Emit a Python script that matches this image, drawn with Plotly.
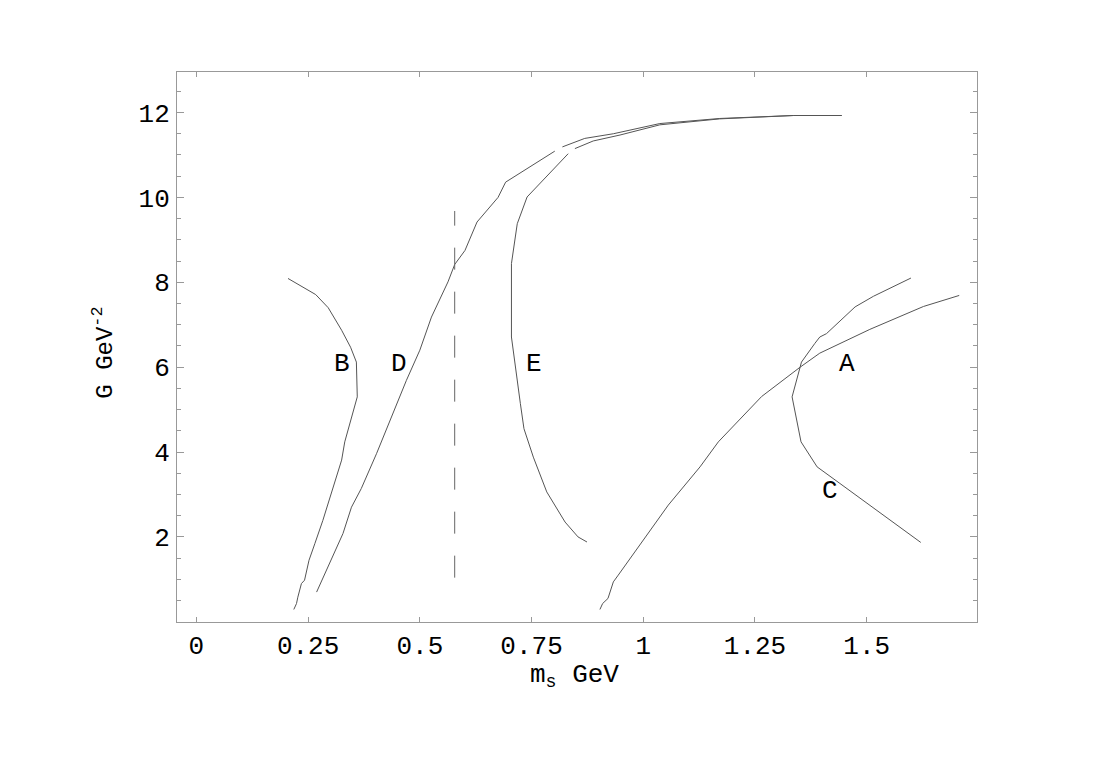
import plotly.graph_objects as go

# ---- data ----
B_x = [0.205, 0.267, 0.295, 0.325, 0.345, 0.358, 0.360, 0.343, 0.332, 0.325, 0.313, 0.298, 0.283, 0.265, 0.252, 0.242, 0.235, 0.227, 0.224, 0.218]
B_y = [8.09, 7.71, 7.40, 6.87, 6.47, 6.12, 5.30, 4.67, 4.24, 3.81, 3.41, 2.86, 2.39, 1.84, 1.45, 0.98, 0.90, 0.58, 0.43, 0.29]

D_x = [0.269, 0.291, 0.328, 0.347, 0.369, 0.403, 0.440, 0.470, 0.500, 0.526, 0.563, 0.578, 0.601, 0.628, 0.675, 0.692, 0.802,
       None, 0.819, 0.869, 0.933, 1.037, 1.171, 1.336, 1.444]
D_y = [0.70, 1.21, 2.08, 2.70, 3.14, 3.96, 4.91, 5.69, 6.40, 7.18, 8.01, 8.42, 8.75, 9.42, 10.00, 10.36, 11.09,
       None, 11.19, 11.39, 11.50, 11.74, 11.86, 11.93, 11.93]

E_x = [0.874, 0.854, 0.825, 0.784, 0.754, 0.733, 0.725, 0.705, 0.705, 0.718, 0.740, 0.832,
       None, 0.847, 0.888, 0.948, 1.037, 1.171, 1.336, 1.444]
E_y = [1.88, 2.00, 2.35, 3.06, 3.88, 4.55, 5.14, 6.71, 8.44, 9.38, 10.01, 11.03,
       None, 11.15, 11.33, 11.47, 11.71, 11.85, 11.93, 11.93]

A_x = [0.903, 0.909, 0.921, 0.933, 0.944, 1.000, 1.056, 1.127, 1.168, 1.265, 1.351, 1.395, 1.507, 1.627, 1.707]
A_y = [0.29, 0.43, 0.55, 0.94, 1.10, 1.92, 2.75, 3.65, 4.24, 5.31, 6.00, 6.33, 6.89, 7.43, 7.69]

C_x = [1.599, 1.515, 1.474, 1.410, 1.395, 1.384, 1.354, 1.333, 1.353, 1.389, 1.440, 1.621]
C_y = [8.10, 7.67, 7.42, 6.79, 6.71, 6.56, 6.12, 5.30, 4.24, 3.65, 3.26, 1.87]

dash_x = [0.578, 0.578]
dash_y = [1.04, 9.68]

label_text = ["A", "B", "C", "D", "E"]
label_x = [1.455, 0.326, 1.418, 0.453, 0.755]
label_y = [6.07, 6.07, 3.08, 6.07, 6.07]

x_tickvals = [0, 0.25, 0.5, 0.75, 1, 1.25, 1.5]
x_ticktext = ["0", "0.25", "0.5", "0.75", "1", "1.25", "1.5"]
y_tickvals = [2, 4, 6, 8, 10, 12]
y_ticktext = ["2", "4", "6", "8", "10", "12"]

FONT = "Liberation Mono, DejaVu Sans Mono, monospace"
LINE_COLOR = "#555555"

fig = go.Figure()
for xs, ys in [(B_x, B_y), (D_x, D_y), (E_x, E_y), (A_x, A_y), (C_x, C_y)]:
    fig.add_trace(go.Scatter(x=xs, y=ys, mode="lines", connectgaps=False,
                             line=dict(color=LINE_COLOR, width=1), showlegend=False,
                             hoverinfo="skip"))
fig.add_trace(go.Scatter(x=dash_x, y=dash_y, mode="lines",
                         line=dict(color="#666666", width=1, dash="22px,22px"),
                         showlegend=False, hoverinfo="skip"))

for t, lx, ly in zip(label_text, label_x, label_y):
    fig.add_annotation(x=lx, y=ly, text=t, showarrow=False, xref="x", yref="y",
                       font=dict(family=FONT, size=26, color="black"))

fig.add_annotation(x=0.497, y=-0.099, xref="paper", yref="paper", text="m<sub>s</sub> GeV",
                   xanchor="center", yanchor="middle",
                   showarrow=False, font=dict(family=FONT, size=26, color="black"))
fig.add_annotation(x=-0.093, y=0.489, xref="paper", yref="paper", text="G GeV<sup>-2</sup>",
                   xanchor="center", yanchor="middle",
                   showarrow=False, textangle=-90, font=dict(family=FONT, size=24, color="black"))

fig.update_xaxes(range=[-0.0434, 1.7468], tickmode="array", tickvals=x_tickvals, ticktext=x_ticktext,
                 showgrid=False, zeroline=False, showline=True, linecolor="#999999", linewidth=1,
                 mirror="allticks", ticks="inside", ticklen=5, tickcolor="#999999", tickwidth=1,
                 tickfont=dict(family=FONT, size=26, color="black"), ticklabelstandoff=0)
fig.update_yaxes(range=[-0.005, 12.955], tickmode="array", tickvals=y_tickvals, ticktext=y_ticktext,
                 showgrid=False, zeroline=False, showline=True, linecolor="#999999", linewidth=1,
                 mirror="allticks", ticks="inside", ticklen=7, tickcolor="#999999", tickwidth=1,
                 minor=dict(ticks="inside", dtick=0.5, tick0=0, ticklen=4, tickcolor="#999999", showgrid=False),
                 tickfont=dict(family=FONT, size=26, color="black"), ticklabelstandoff=1)

fig.update_layout(width=1097, height=754, plot_bgcolor="white", paper_bgcolor="white",
                  margin=dict(l=169, r=128, t=64, b=140))

fig.write_html("out.html")
